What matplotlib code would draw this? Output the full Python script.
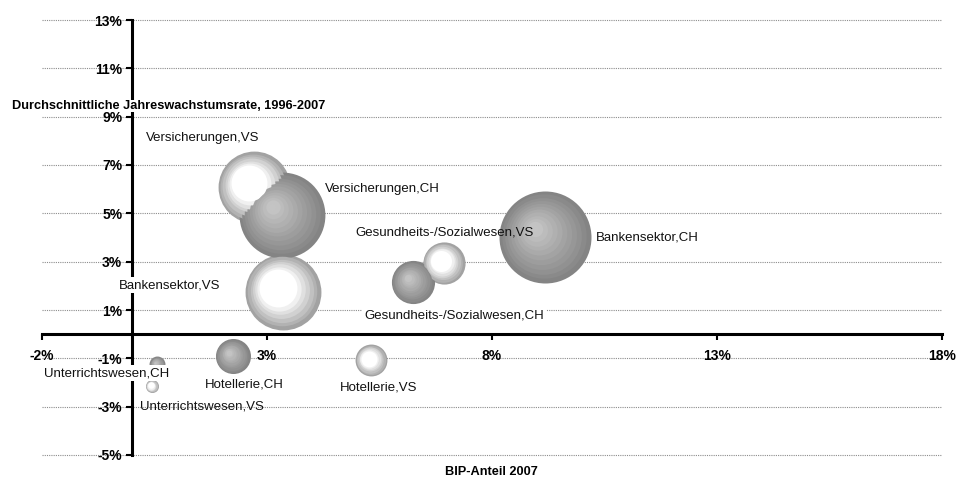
import numpy as np
import matplotlib
matplotlib.use('Agg')
import matplotlib.pyplot as plt
from matplotlib.transforms import ScaledTranslation

plt.rcParams['font.family'] = ['Liberation Sans', 'DejaVu Sans']

# Branchen: BIP-Anteil 2007 (x), Wachstum 1996-2007 (y), Blasengroesse
branchen = ['Versicherungen', 'Bankensektor', 'Gesundheits-/Sozialwesen',
            'Hotellerie', 'Unterrichtswesen']
bip_vs = [2.71, 3.36, 6.93, 5.31, 0.44]
wachstum_vs = [6.08, 1.74, 2.94, -1.08, -2.15]
groesse_vs = [6.1, 6.8, 2.1, 1.2, 0.2]
bip_ch = [3.33, 9.18, 6.24, 2.24, 0.56]
wachstum_ch = [4.92, 4.01, 2.15, -0.91, -1.24]
groesse_ch = [8.7, 10.0, 2.2, 1.45, 0.3]

xticks = [-2, 3, 8, 13, 18]
yticks = [-5, -3, -1, 1, 3, 5, 7, 9, 11, 13]

# label offsets in pixels (dx, dy, ha, white box)
pos_vs = [(-51, 49, 'center', False), (-114, 7, 'center', True),
          (1, 31, 'center', False), (8, -27, 'center', False),
          (50, -20, 'center', False)]
pos_ch = [(43, 26, 'left', False), (51, 0, 'left', False),
          (41, -33, 'center', True), (12, -28, 'center', False),
          (-51, -9, 'center', True)]

fig = plt.figure(figsize=(9.72, 4.78), dpi=100)
ax = fig.add_axes([42 / 972, 1 - 455 / 478, 900 / 972, 435 / 478])
ax.set_xlim(-2, 18)
ax.set_ylim(-5, 13)


def bubble(x, y, size, edge, center, white_frac):
    # shaded sphere built from concentric circles shifted up-left
    r_px = 46 * np.sqrt(size / 10.0)
    n = 12
    edge = np.array(matplotlib.colors.to_rgb(edge))
    center = np.array(matplotlib.colors.to_rgb(center))
    for i in range(n):
        t = 1 - i / n
        dx = -0.26 * r_px * (1 - t) / 100.0
        dy = 0.22 * r_px * (1 - t) / 100.0
        f = min(1.0, (1 - t) / white_frac)
        col = edge + (center - edge) * f
        tr = ax.transData + ScaledTranslation(dx, dy, fig.dpi_scale_trans)
        ax.scatter([x], [y], s=(2 * r_px * t * 0.72) ** 2, color=col,
                   linewidths=0, transform=tr, zorder=3 + i * 0.001)


for x, y, s in zip(bip_vs, wachstum_vs, groesse_vs):
    bubble(x, y, s, '#a2a2a2', '#ffffff', 0.5)
for x, y, s in zip(bip_ch, wachstum_ch, groesse_ch):
    bubble(x, y, s, '#848484', '#c4c4c4', 0.85)


def labels(xs, ys, pos, suffix):
    for name, x, y, (dx, dy, ha, box) in zip(branchen, xs, ys, pos):
        kw = {}
        if box:
            kw['bbox'] = dict(facecolor='white', edgecolor='none', pad=1.5)
        ax.annotate(name + ',' + suffix, (x, y), xytext=(dx, dy),
                    textcoords='offset pixels', ha=ha, va='center',
                    fontsize=9.5, color='#111111', zorder=5, **kw)


labels(bip_vs, wachstum_vs, pos_vs, 'VS')
labels(bip_ch, wachstum_ch, pos_ch, 'CH')

# axes crossing at zero
for s in ['top', 'right']:
    ax.spines[s].set_visible(False)
ax.spines['left'].set_position(('data', 0))
ax.spines['bottom'].set_position(('data', 0))
ax.spines['left'].set_linewidth(2.2)
ax.spines['bottom'].set_linewidth(2.2)
ax.spines['left'].set_zorder(2.5)
ax.spines['bottom'].set_zorder(2.5)

ax.set_xticks(xticks)
ax.set_yticks(yticks)
ax.set_xticklabels([f'{v}%' for v in xticks])
ax.set_yticklabels([f'{v}%' for v in yticks])
ax.tick_params(axis='both', direction='out', length=4, width=1.5,
               labelsize=10, pad=3)
ax.tick_params(axis='x', pad=7)
for lab in ax.get_xticklabels() + ax.get_yticklabels():
    lab.set_fontweight('bold')

for v in yticks:
    ax.axhline(v, color='#8c8c8c', lw=0.8, ls=(0, (1, 1)), zorder=1,
               clip_on=False)

fig.text(12 / 972, 1 - 106 / 478, 'Durchschnittliche Jahreswachstumsrate, 1996-2007',
         fontsize=9.2, fontweight='bold', ha='left', va='center', zorder=6,
         bbox=dict(facecolor='white', edgecolor='none', pad=0))
fig.text(491 / 972, 1 - 472 / 478, 'BIP-Anteil 2007', fontsize=9.2,
         fontweight='bold', ha='center', va='center')

fig.savefig('out.png', dpi=100)
